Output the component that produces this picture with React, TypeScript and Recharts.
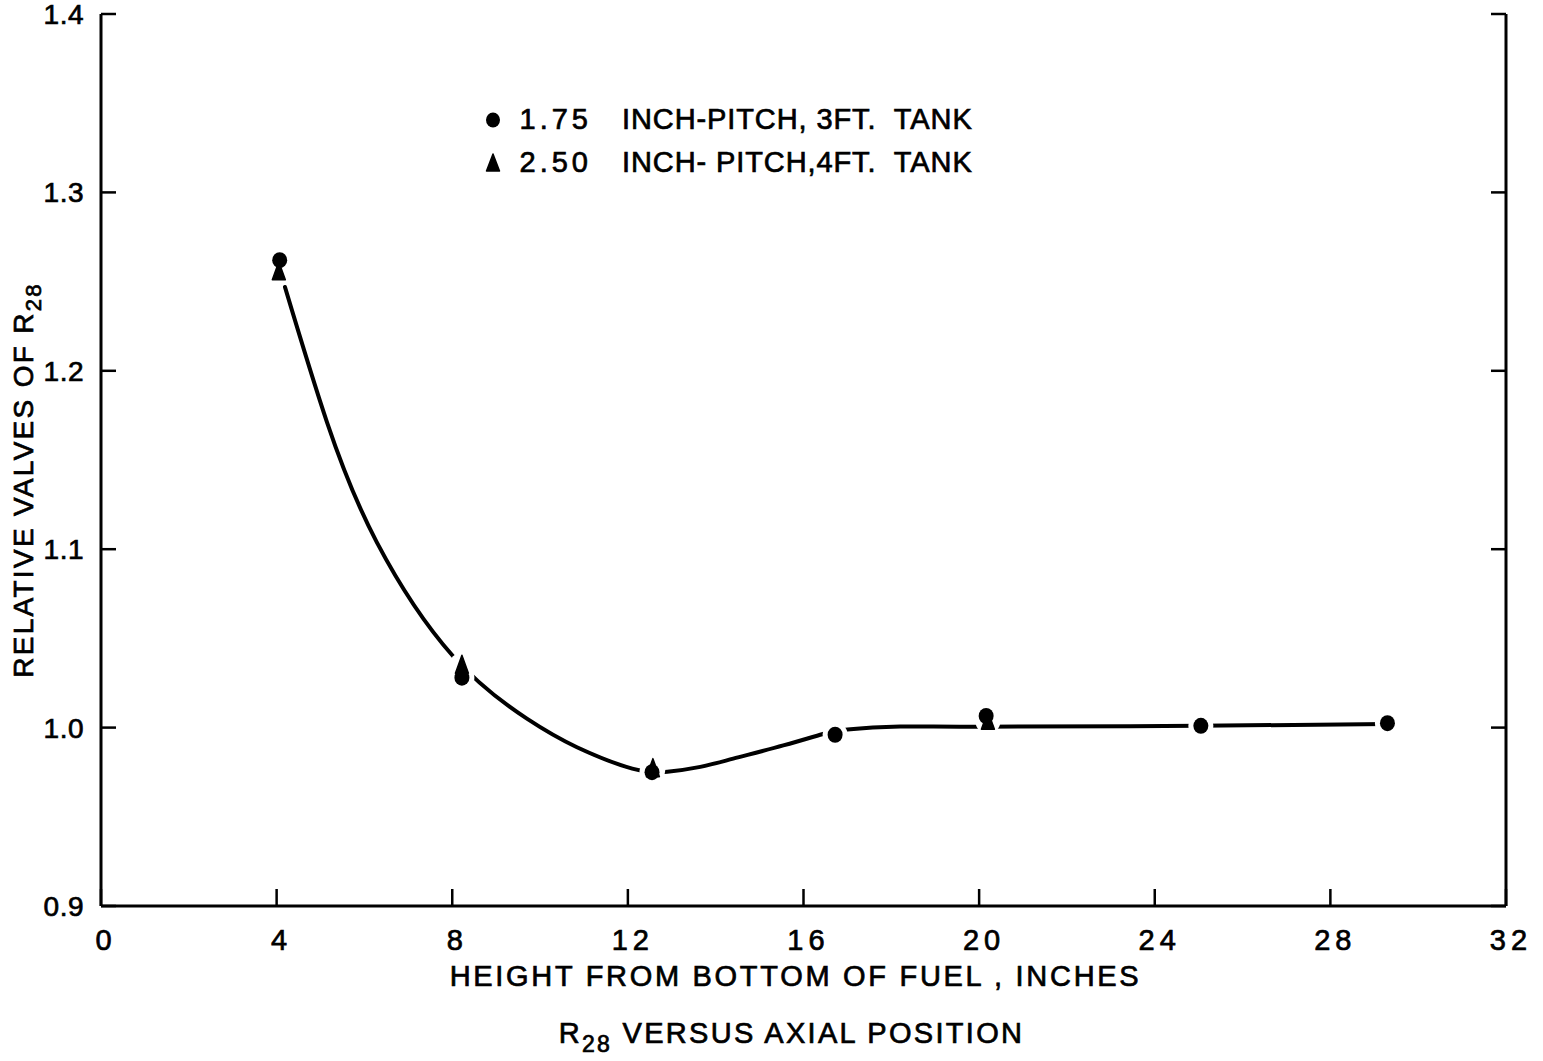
import React from 'react';
import { ComposedChart, Line, Scatter, XAxis, YAxis } from 'recharts';

const xTicks = [0, 4, 8, 12, 16, 20, 24, 28, 32];
const yTicks = [0.9, 1.0, 1.1, 1.2, 1.3, 1.4];

const seriesNames = ['1.75', '2.50'];
const seriesLabels = ['INCH-PITCH, 3FT.  TANK', 'INCH- PITCH,4FT.  TANK'];

const circleX = [4.07, 8.22, 12.55, 16.72, 20.16, 25.05, 29.3];
const circleY = [1.262, 1.028, 0.975, 0.996, 1.0065, 1.001, 1.0025];

const triangleX = [4.05, 8.22, 12.57, 20.2];
const triangleY = [1.2555, 1.035, 0.977, 1.0035];

// hand-drawn fitted curve
const curveX = [4.19, 5.15, 6.28, 8.02, 9.7, 10.84, 12.1, 12.9, 13.65, 14.4, 15.54, 16.38, 17.0, 18.2, 20.1, 25.0, 29.3];
const curveY = [1.247, 1.171, 1.104, 1.040, 1.005, 0.989, 0.977, 0.9753, 0.978, 0.9826, 0.990, 0.996, 0.9989, 1.0006, 1.0005, 1.001, 1.002];

const circleData = circleX.map((x, i) => ({ x, y: circleY[i] }));
const triangleData = triangleX.map((x, i) => ({ x, y: triangleY[i] }));
const curveData = curveX.map((x, i) => ({ x, y: curveY[i] }));
const haloData = [...circleData, ...triangleData];

const FONT = '"Liberation Sans", Arial, sans-serif';

const CircleShape = (p: any) => <ellipse cx={p.cx} cy={p.cy} rx={7.5} ry={8} fill="#000" />;
const TriangleShape = (p: any) => (
  <path
    d={`M${p.cx},${p.cy - 10} L${p.cx + 6.5},${p.cy + 8} L${p.cx - 6.5},${p.cy + 8} Z`}
    fill="#000"
    stroke="#000"
    strokeWidth={1.5}
    strokeLinejoin="round"
  />
);
const HaloShape = (p: any) => <circle cx={p.cx} cy={p.cy} r={12.5} fill="#fff" />;

const textStyle = { fill: '#000', stroke: '#000', strokeWidth: 0.7 } as const;

const XLabel = (props: any) => {
  const vb = props.viewBox || {};
  const cx = vb.x + vb.width / 2 - 8;
  return (
    <g>
      <text x={cx} y={vb.y + 80} textAnchor="middle" fontFamily={FONT} fontSize={29} letterSpacing={2.7} {...textStyle}>
        HEIGHT FROM BOTTOM OF FUEL , INCHES
      </text>
      <text x={cx - 4} y={vb.y + 137} textAnchor="middle" fontFamily={FONT} fontSize={29} letterSpacing={2.3} {...textStyle}>
        R<tspan fontSize={23} dy={9}>28</tspan>
        <tspan dy={-9}> VERSUS AXIAL POSITION</tspan>
      </text>
    </g>
  );
};

const YLabel = (props: any) => {
  const vb = props.viewBox || {};
  const x = 33;
  const y = vb.y + vb.height / 2 + 20;
  return (
    <text
      x={x}
      y={y}
      transform={`rotate(-90, ${x}, ${y})`}
      textAnchor="middle"
      fontFamily={FONT}
      fontSize={28}
      letterSpacing={2.3}
      {...textStyle}
    >
      RELATIVE VALVES OF R<tspan fontSize={22} dy={8}>28</tspan>
    </text>
  );
};

const LegendOverlay = () => (
  <div style={{ position: 'absolute', left: 484, top: 98, fontFamily: FONT, fontSize: 29, color: '#000', lineHeight: '43px', WebkitTextStroke: '0.7px #000' }}>
    {seriesNames.map((n, i) => (
      <div key={n} style={{ display: 'flex', alignItems: 'center', height: 43 }}>
        <svg width={20} height={20} style={{ marginRight: 4 }}>
          {i === 0 ? (
            <ellipse cx={9} cy={10} rx={7} ry={7.5} fill="#000" />
          ) : (
            <path d="M9,1 L15.5,18 L2.5,18 Z" fill="#000" stroke="#000" strokeWidth={1.5} strokeLinejoin="round" />
          )}
        </svg>
        <span style={{ display: 'inline-block', width: 84, textAlign: 'right', letterSpacing: 4 }}>{n}</span>
        <span style={{ display: 'inline-block', marginLeft: 30, letterSpacing: 0.9, whiteSpace: 'pre' }}>{seriesLabels[i]}</span>
      </div>
    ))}
  </div>
);

export default function App() {
  return (
    <div style={{ position: 'absolute', left: 0, top: 0, width: 1543, height: 1061, background: '#fff' }}>
      <ComposedChart width={1543} height={1061} margin={{ top: 14, right: 0, bottom: 0, left: 0 }}>
        <XAxis
          xAxisId="b"
          type="number"
          dataKey="x"
          domain={[0, 32]}
          ticks={xTicks}
          allowDataOverflow
          height={155}
          stroke="#000"
          axisLine={{ stroke: '#000', strokeWidth: 3 }}
          tickLine={{ stroke: '#000', strokeWidth: 2.5 }}
          tickSize={-17}
          tickMargin={40}
          tick={{ fontSize: 29, fontFamily: FONT, letterSpacing: 5, dx: 5, ...textStyle }}
          interval={0}
          label={<XLabel />}
        />
        <XAxis
          xAxisId="t"
          orientation="top"
          type="number"
          dataKey="x"
          domain={[0, 32]}
          height={0}
          tick={false}
          tickLine={false}
          axisLine={{ stroke: '#000', strokeWidth: 3 }}
        />
        <YAxis
          yAxisId="l"
          type="number"
          domain={[0.9, 1.4]}
          ticks={yTicks}
          allowDataOverflow
          width={101}
          axisLine={{ stroke: '#000', strokeWidth: 3 }}
          tickLine={{ stroke: '#000', strokeWidth: 2.5 }}
          tickSize={-15}
          tickMargin={32}
          tick={{ fontSize: 28, fontFamily: FONT, letterSpacing: 0.5, ...textStyle }}
          tickFormatter={(v: number) => v.toFixed(1)}
          interval={0}
          label={<YLabel />}
        />
        <YAxis
          yAxisId="r"
          orientation="right"
          type="number"
          domain={[0.9, 1.4]}
          ticks={yTicks}
          allowDataOverflow
          width={37}
          axisLine={{ stroke: '#000', strokeWidth: 3 }}
          tickLine={{ stroke: '#000', strokeWidth: 2.5 }}
          tickSize={-15}
          tickFormatter={() => ''}
          interval={0}
        />
        <Line
          xAxisId="b"
          yAxisId="l"
          data={curveData}
          dataKey="y"
          type="natural"
          stroke="#000"
          strokeWidth={4}
          dot={false}
          activeDot={false}
          isAnimationActive={false}
          strokeLinecap="round"
        />
        <Scatter xAxisId="b" yAxisId="l" data={haloData} dataKey="y" shape={HaloShape} isAnimationActive={false} legendType="none" />
        <Scatter xAxisId="b" yAxisId="l" name={seriesNames[1]} data={triangleData} dataKey="y" shape={TriangleShape} isAnimationActive={false} />
        <Scatter xAxisId="b" yAxisId="l" name={seriesNames[0]} data={circleData} dataKey="y" shape={CircleShape} isAnimationActive={false} />
      </ComposedChart>
      <LegendOverlay />
    </div>
  );
}
